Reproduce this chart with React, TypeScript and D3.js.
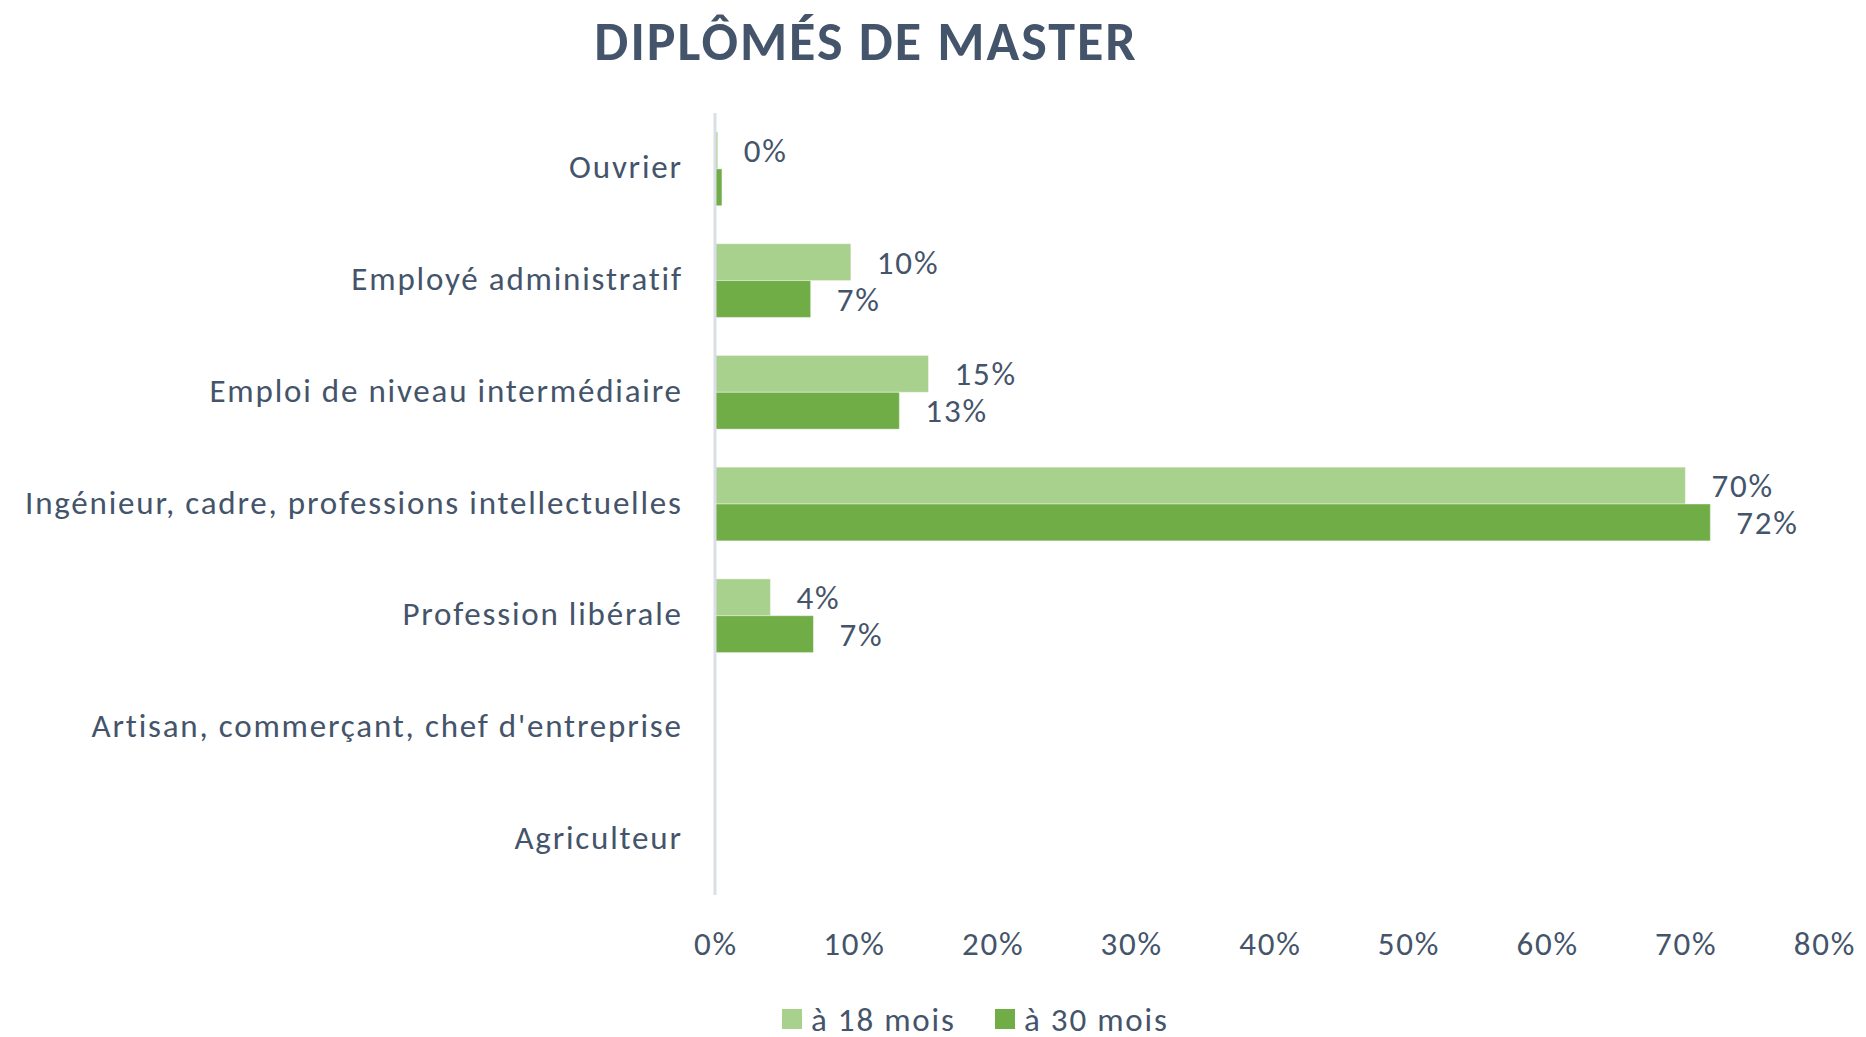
import React, {useMemo} from "react";
import * as d3 from "d3";

const WIDTH = 1866;
const HEIGHT = 1037;

const categories = [
    "Ouvrier",
    "Employé administratif",
    "Emploi de niveau intermédiaire",
    "Ingénieur, cadre, professions intellectuelles",
    "Profession libérale",
    "Artisan, commerçant, chef d'entreprise",
    "Agriculteur",
];
const series = ["à 18 mois", "à 30 mois"];
const at18 = [0.002, 0.098, 0.154, 0.70, 0.04, null, null];
const at30 = [0.005, 0.069, 0.133, 0.718, 0.071, null, null];
// the label of the 30-month "Ouvrier" bar is not shown in the original
const hideLabel30 = ["Ouvrier"];
const xTicks = [0, 0.1, 0.2, 0.3, 0.4, 0.5, 0.6, 0.7, 0.8];

const COLORS = ["#A9D18E", "#70AD47"];
const TEXT = "#44546A";
const FONT = "Carlito, Lato, 'Open Sans', sans-serif";
const FS = 33;
const LS = 1.8; // letter spacing, the original font runs wider

const App = () => {
    const margin = {left: 715, right: 42, top: 113, bottom: 142};

    const xScale = useMemo(() => {
        return d3.scaleLinear().domain([0, 0.8]).range([margin.left, WIDTH - margin.right]);
    }, []);

    const yScale = useMemo(() => {
        return d3
            .scaleBand()
            .domain(categories)
            .range([margin.top, HEIGHT - margin.bottom])
            .paddingInner(0.34)
            .paddingOuter(0.17);
    }, []);

    const subScale = d3.scaleBand().domain(series).range([0, yScale.bandwidth()]);
    const fmt = d3.format(".0%");

    const allBars = categories.map((cat, i) => {
        const vals = [at18[i], at30[i]];
        return (
            <g key={cat} transform={"translate(0," + yScale(cat) + ")"}>
                {vals.map((v, j) => {
                    if (v === null) return null;
                    const y = subScale(series[j]);
                    const showLabel = !(j === 1 && hideLabel30.includes(cat));
                    return (
                        <g key={j}>
                            <rect
                                x={xScale(0)}
                                y={y}
                                width={xScale(v) - xScale(0)}
                                height={subScale.bandwidth()}
                                fill={COLORS[j]}
                                stroke="#ffffff"
                                strokeOpacity={0.4}
                                strokeWidth={1}
                            />
                            {showLabel && (
                                <text
                                    x={xScale(v) + 26}
                                    y={y + subScale.bandwidth() / 2}
                                    dy="0.35em"
                                    fontSize={FS}
                                    letterSpacing={LS}
                                    fill={TEXT}
                                >
                                    {fmt(v)}
                                </text>
                            )}
                        </g>
                    );
                })}
            </g>
        );
    });

    const legendX = [782, 995];

    return (
        <svg
            width={WIDTH}
            height={HEIGHT}
            style={{position: "absolute", left: 0, top: 0, background: "#fff"}}
            fontFamily={FONT}
        >
            <text
                x={866}
                y={60}
                textAnchor="middle"
                fontSize={54}
                fontWeight="bold"
                letterSpacing={2}
                fill={TEXT}
            >
                DIPLÔMÉS DE MASTER
            </text>

            {/* category labels */}
            {categories.map((cat) => (
                <text
                    key={cat}
                    x={681 + LS}
                    y={yScale(cat) + yScale.bandwidth() / 2 - 2}
                    dy="0.35em"
                    textAnchor="end"
                    fontSize={FS}
                    letterSpacing={LS}
                    fill={TEXT}
                >
                    {cat}
                </text>
            ))}

            {allBars}

            {/* vertical axis line */}
            <line
                x1={xScale(0)}
                x2={xScale(0)}
                y1={margin.top}
                y2={HEIGHT - margin.bottom}
                stroke="#D9DEE7"
                strokeWidth={3}
            />

            {/* x ticks */}
            {xTicks.map((t) => (
                <text
                    key={t}
                    x={xScale(t) + LS / 2}
                    y={943}
                    dy="0.35em"
                    textAnchor="middle"
                    fontSize={FS}
                    letterSpacing={LS}
                    fill={TEXT}
                >
                    {fmt(t)}
                </text>
            ))}

            {/* legend */}
            {series.map((s, i) => (
                <g key={s} transform={"translate(" + legendX[i] + ",1009)"}>
                    <rect width={20} height={20} fill={COLORS[i]} />
                    <text x={29} y={10} dy="0.35em" fontSize={FS} letterSpacing={LS} fill={TEXT}>
                        {s}
                    </text>
                </g>
            ))}
        </svg>
    );
};

export default App;
